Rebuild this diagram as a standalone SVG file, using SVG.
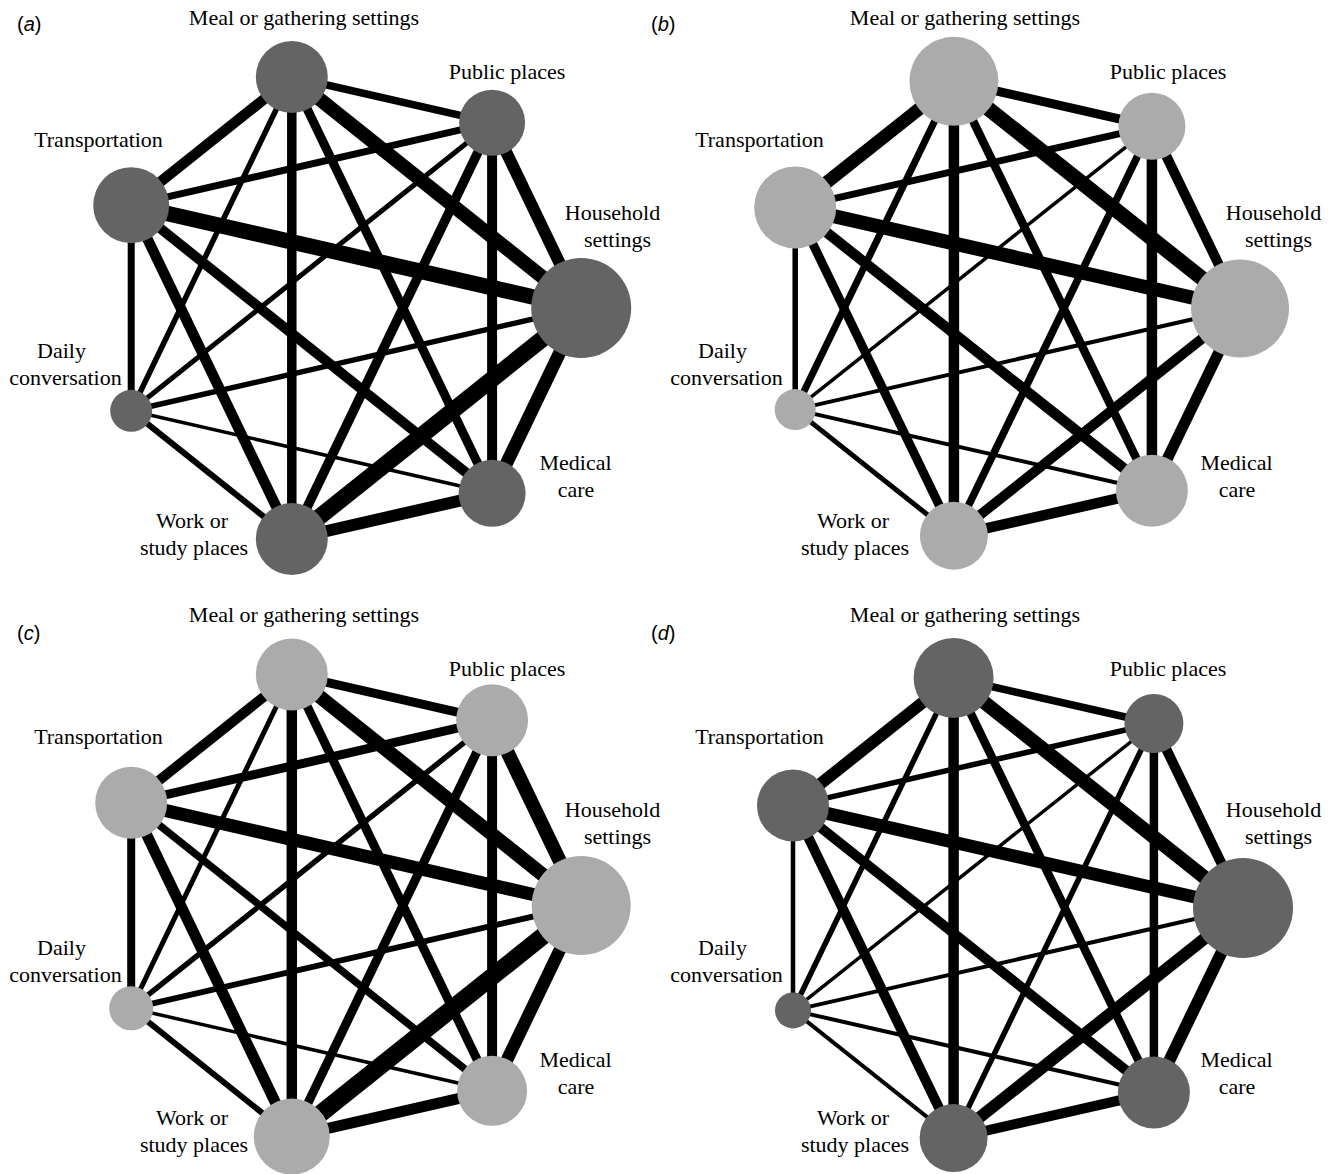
<svg xmlns="http://www.w3.org/2000/svg" width="1336" height="1174" viewBox="0 0 1336 1174">
<style>
.lbl{font-family:"Liberation Serif","Times New Roman",serif;font-size:22px;fill:#000;text-anchor:middle}
.pl{font-family:"Liberation Sans",Arial,sans-serif;font-size:20px;fill:#000}
.pl tspan{font-style:italic}
.e line{stroke:#000;fill:none}
.dk{fill:#646464}
.lt{fill:#ababab}
</style>
<rect width="1336" height="1174" fill="#fff"/>
<g id="panel-labels">
<text class="pl" x="17" y="31">(<tspan>a</tspan>)</text>
<text class="pl" x="651" y="31">(<tspan>b</tspan>)</text>
<text class="pl" x="17" y="640">(<tspan>c</tspan>)</text>
<text class="pl" x="651" y="640">(<tspan>d</tspan>)</text>
</g>
<g id="connectors" class="e">
<!-- panel a -->
<line x1="291.8" y1="77" x2="492.1" y2="122.7" stroke-width="7.5"/>
<line x1="291.8" y1="77" x2="581.2" y2="308" stroke-width="14"/>
<line x1="291.8" y1="77" x2="492.1" y2="493.3" stroke-width="9"/>
<line x1="291.8" y1="77" x2="291.8" y2="539" stroke-width="9.5"/>
<line x1="291.8" y1="77" x2="131.2" y2="410.8" stroke-width="5.5"/>
<line x1="291.8" y1="77" x2="131.2" y2="205.2" stroke-width="10.5"/>
<line x1="492.1" y1="122.7" x2="581.2" y2="308" stroke-width="12"/>
<line x1="492.1" y1="122.7" x2="492.1" y2="493.3" stroke-width="10"/>
<line x1="492.1" y1="122.7" x2="291.8" y2="539" stroke-width="9.5"/>
<line x1="492.1" y1="122.7" x2="131.2" y2="410.8" stroke-width="5"/>
<line x1="492.1" y1="122.7" x2="131.2" y2="205.2" stroke-width="7"/>
<line x1="581.2" y1="308" x2="492.1" y2="493.3" stroke-width="13"/>
<line x1="581.2" y1="308" x2="291.8" y2="539" stroke-width="16.5"/>
<line x1="581.2" y1="308" x2="131.2" y2="410.8" stroke-width="5.5"/>
<line x1="581.2" y1="308" x2="131.2" y2="205.2" stroke-width="15.5"/>
<line x1="492.1" y1="493.3" x2="291.8" y2="539" stroke-width="12"/>
<line x1="492.1" y1="493.3" x2="131.2" y2="410.8" stroke-width="3.5"/>
<line x1="492.1" y1="493.3" x2="131.2" y2="205.2" stroke-width="10"/>
<line x1="291.8" y1="539" x2="131.2" y2="410.8" stroke-width="6"/>
<line x1="291.8" y1="539" x2="131.2" y2="205.2" stroke-width="10.5"/>
<line x1="131.2" y1="410.8" x2="131.2" y2="205.2" stroke-width="7"/>
<!-- panel b -->
<line x1="953.9" y1="81.3" x2="1151.9" y2="126.3" stroke-width="9"/>
<line x1="953.9" y1="81.3" x2="1240" y2="308.5" stroke-width="15"/>
<line x1="953.9" y1="81.3" x2="1151.9" y2="490.7" stroke-width="8.5"/>
<line x1="953.9" y1="81.3" x2="953.9" y2="535.7" stroke-width="10.5"/>
<line x1="953.9" y1="81.3" x2="795.2" y2="409.6" stroke-width="7"/>
<line x1="953.9" y1="81.3" x2="795.2" y2="207.4" stroke-width="13"/>
<line x1="1151.9" y1="126.3" x2="1240" y2="308.5" stroke-width="10"/>
<line x1="1151.9" y1="126.3" x2="1151.9" y2="490.7" stroke-width="10.5"/>
<line x1="1151.9" y1="126.3" x2="953.9" y2="535.7" stroke-width="7.5"/>
<line x1="1151.9" y1="126.3" x2="795.2" y2="409.6" stroke-width="3.5"/>
<line x1="1151.9" y1="126.3" x2="795.2" y2="207.4" stroke-width="7"/>
<line x1="1240" y1="308.5" x2="1151.9" y2="490.7" stroke-width="11"/>
<line x1="1240" y1="308.5" x2="953.9" y2="535.7" stroke-width="10"/>
<line x1="1240" y1="308.5" x2="795.2" y2="409.6" stroke-width="4"/>
<line x1="1240" y1="308.5" x2="795.2" y2="207.4" stroke-width="14"/>
<line x1="1151.9" y1="490.7" x2="953.9" y2="535.7" stroke-width="10.5"/>
<line x1="1151.9" y1="490.7" x2="795.2" y2="409.6" stroke-width="4"/>
<line x1="1151.9" y1="490.7" x2="795.2" y2="207.4" stroke-width="10.5"/>
<line x1="953.9" y1="535.7" x2="795.2" y2="409.6" stroke-width="5"/>
<line x1="953.9" y1="535.7" x2="795.2" y2="207.4" stroke-width="9"/>
<line x1="795.2" y1="409.6" x2="795.2" y2="207.4" stroke-width="5.5"/>
<!-- panel c -->
<line x1="291.8" y1="674.4" x2="492.1" y2="720.2" stroke-width="9"/>
<line x1="291.8" y1="674.4" x2="581.2" y2="905.5" stroke-width="14"/>
<line x1="291.8" y1="674.4" x2="492.1" y2="1090.8" stroke-width="9"/>
<line x1="291.8" y1="674.4" x2="291.8" y2="1136.6" stroke-width="10.5"/>
<line x1="291.8" y1="674.4" x2="131.2" y2="1008.3" stroke-width="5"/>
<line x1="291.8" y1="674.4" x2="131.2" y2="802.7" stroke-width="10"/>
<line x1="492.1" y1="720.2" x2="581.2" y2="905.5" stroke-width="14"/>
<line x1="492.1" y1="720.2" x2="492.1" y2="1090.8" stroke-width="10"/>
<line x1="492.1" y1="720.2" x2="291.8" y2="1136.6" stroke-width="9"/>
<line x1="492.1" y1="720.2" x2="131.2" y2="1008.3" stroke-width="5.5"/>
<line x1="492.1" y1="720.2" x2="131.2" y2="802.7" stroke-width="9"/>
<line x1="581.2" y1="905.5" x2="492.1" y2="1090.8" stroke-width="12.5"/>
<line x1="581.2" y1="905.5" x2="291.8" y2="1136.6" stroke-width="17.5"/>
<line x1="581.2" y1="905.5" x2="131.2" y2="1008.3" stroke-width="6"/>
<line x1="581.2" y1="905.5" x2="131.2" y2="802.7" stroke-width="13"/>
<line x1="492.1" y1="1090.8" x2="291.8" y2="1136.6" stroke-width="11"/>
<line x1="492.1" y1="1090.8" x2="131.2" y2="1008.3" stroke-width="3.5"/>
<line x1="492.1" y1="1090.8" x2="131.2" y2="802.7" stroke-width="7.5"/>
<line x1="291.8" y1="1136.6" x2="131.2" y2="1008.3" stroke-width="6"/>
<line x1="291.8" y1="1136.6" x2="131.2" y2="802.7" stroke-width="11"/>
<line x1="131.2" y1="1008.3" x2="131.2" y2="802.7" stroke-width="8"/>
<!-- panel d -->
<line x1="953.6" y1="677.9" x2="1153.9" y2="723.5" stroke-width="7.5"/>
<line x1="953.6" y1="677.9" x2="1243" y2="908" stroke-width="14"/>
<line x1="953.6" y1="677.9" x2="1153.9" y2="1092.5" stroke-width="8.5"/>
<line x1="953.6" y1="677.9" x2="953.6" y2="1138.1" stroke-width="10.5"/>
<line x1="953.6" y1="677.9" x2="793" y2="1010.4" stroke-width="5.5"/>
<line x1="953.6" y1="677.9" x2="793" y2="805.6" stroke-width="12"/>
<line x1="1153.9" y1="723.5" x2="1243" y2="908" stroke-width="10"/>
<line x1="1153.9" y1="723.5" x2="1153.9" y2="1092.5" stroke-width="8.5"/>
<line x1="1153.9" y1="723.5" x2="953.6" y2="1138.1" stroke-width="5.5"/>
<line x1="1153.9" y1="723.5" x2="793" y2="1010.4" stroke-width="3.5"/>
<line x1="1153.9" y1="723.5" x2="793" y2="805.6" stroke-width="5.5"/>
<line x1="1243" y1="908" x2="1153.9" y2="1092.5" stroke-width="12"/>
<line x1="1243" y1="908" x2="953.6" y2="1138.1" stroke-width="12"/>
<line x1="1243" y1="908" x2="793" y2="1010.4" stroke-width="4"/>
<line x1="1243" y1="908" x2="793" y2="805.6" stroke-width="13"/>
<line x1="1153.9" y1="1092.5" x2="953.6" y2="1138.1" stroke-width="10"/>
<line x1="1153.9" y1="1092.5" x2="793" y2="1010.4" stroke-width="4"/>
<line x1="1153.9" y1="1092.5" x2="793" y2="805.6" stroke-width="10"/>
<line x1="953.6" y1="1138.1" x2="793" y2="1010.4" stroke-width="4"/>
<line x1="953.6" y1="1138.1" x2="793" y2="805.6" stroke-width="10"/>
<line x1="793" y1="1010.4" x2="793" y2="805.6" stroke-width="4.5"/>
</g>
<!-- panel a nodes -->
<g id="a-meal"><circle class="dk" cx="291.8" cy="77" r="36"/><text class="lbl" x="304" y="25">Meal or gathering settings</text></g>
<g id="a-public"><circle class="dk" cx="492.1" cy="122.7" r="33"/><text class="lbl" x="507" y="79">Public places</text></g>
<g id="a-household"><circle class="dk" cx="581.2" cy="308" r="50"/><text class="lbl" x="612.5" y="220">Household</text><text class="lbl" x="617.5" y="247">settings</text></g>
<g id="a-medical"><circle class="dk" cx="492.1" cy="493.3" r="33.5"/><text class="lbl" x="575.5" y="470">Medical</text><text class="lbl" x="576" y="497">care</text></g>
<g id="a-work"><circle class="dk" cx="291.8" cy="539" r="36"/><text class="lbl" x="192" y="528">Work or</text><text class="lbl" x="194" y="555">study places</text></g>
<g id="a-daily"><circle class="dk" cx="131.2" cy="410.8" r="21"/><text class="lbl" x="61.5" y="358">Daily</text><text class="lbl" x="65.5" y="385">conversation</text></g>
<g id="a-transport"><circle class="dk" cx="131.2" cy="205.2" r="38"/><text class="lbl" x="98.5" y="147">Transportation</text></g>
<!-- panel b nodes -->
<g id="b-meal"><circle class="lt" cx="953.9" cy="81.3" r="44.5"/><text class="lbl" x="965" y="25">Meal or gathering settings</text></g>
<g id="b-public"><circle class="lt" cx="1151.9" cy="126.3" r="33.5"/><text class="lbl" x="1168" y="79">Public places</text></g>
<g id="b-household"><circle class="lt" cx="1240" cy="308.5" r="49"/><text class="lbl" x="1273.5" y="220">Household</text><text class="lbl" x="1278.5" y="247">settings</text></g>
<g id="b-medical"><circle class="lt" cx="1151.9" cy="490.7" r="36"/><text class="lbl" x="1236.5" y="470">Medical</text><text class="lbl" x="1237" y="497">care</text></g>
<g id="b-work"><circle class="lt" cx="953.9" cy="535.7" r="34"/><text class="lbl" x="853" y="528">Work or</text><text class="lbl" x="855" y="555">study places</text></g>
<g id="b-daily"><circle class="lt" cx="795.2" cy="409.6" r="20.5"/><text class="lbl" x="722.5" y="358">Daily</text><text class="lbl" x="726.5" y="385">conversation</text></g>
<g id="b-transport"><circle class="lt" cx="795.2" cy="207.4" r="41"/><text class="lbl" x="759.5" y="147">Transportation</text></g>
<!-- panel c nodes -->
<g id="c-meal"><circle class="lt" cx="291.8" cy="674.4" r="36"/><text class="lbl" x="304" y="622">Meal or gathering settings</text></g>
<g id="c-public"><circle class="lt" cx="492.1" cy="720.2" r="36"/><text class="lbl" x="507" y="676">Public places</text></g>
<g id="c-household"><circle class="lt" cx="581.2" cy="905.5" r="49.5"/><text class="lbl" x="612.5" y="817">Household</text><text class="lbl" x="617.5" y="844">settings</text></g>
<g id="c-medical"><circle class="lt" cx="492.1" cy="1090.8" r="35"/><text class="lbl" x="575.5" y="1067">Medical</text><text class="lbl" x="576" y="1094">care</text></g>
<g id="c-work"><circle class="lt" cx="291.8" cy="1136.6" r="38"/><text class="lbl" x="192" y="1125">Work or</text><text class="lbl" x="194" y="1152">study places</text></g>
<g id="c-daily"><circle class="lt" cx="131.2" cy="1008.3" r="22"/><text class="lbl" x="61.5" y="955">Daily</text><text class="lbl" x="65.5" y="982">conversation</text></g>
<g id="c-transport"><circle class="lt" cx="131.2" cy="802.7" r="36"/><text class="lbl" x="98.5" y="744">Transportation</text></g>
<!-- panel d nodes -->
<g id="d-meal"><circle class="dk" cx="953.6" cy="677.9" r="40"/><text class="lbl" x="965" y="622">Meal or gathering settings</text></g>
<g id="d-public"><circle class="dk" cx="1153.9" cy="723.5" r="29.5"/><text class="lbl" x="1168" y="676">Public places</text></g>
<g id="d-household"><circle class="dk" cx="1243" cy="908" r="50"/><text class="lbl" x="1273.5" y="817">Household</text><text class="lbl" x="1278.5" y="844">settings</text></g>
<g id="d-medical"><circle class="dk" cx="1153.9" cy="1092.5" r="36"/><text class="lbl" x="1236.5" y="1067">Medical</text><text class="lbl" x="1237" y="1094">care</text></g>
<g id="d-work"><circle class="dk" cx="953.6" cy="1138.1" r="34"/><text class="lbl" x="853" y="1125">Work or</text><text class="lbl" x="855" y="1152">study places</text></g>
<g id="d-daily"><circle class="dk" cx="793" cy="1010.4" r="18"/><text class="lbl" x="722.5" y="955">Daily</text><text class="lbl" x="726.5" y="982">conversation</text></g>
<g id="d-transport"><circle class="dk" cx="793" cy="805.6" r="36"/><text class="lbl" x="759.5" y="744">Transportation</text></g>
</svg>
